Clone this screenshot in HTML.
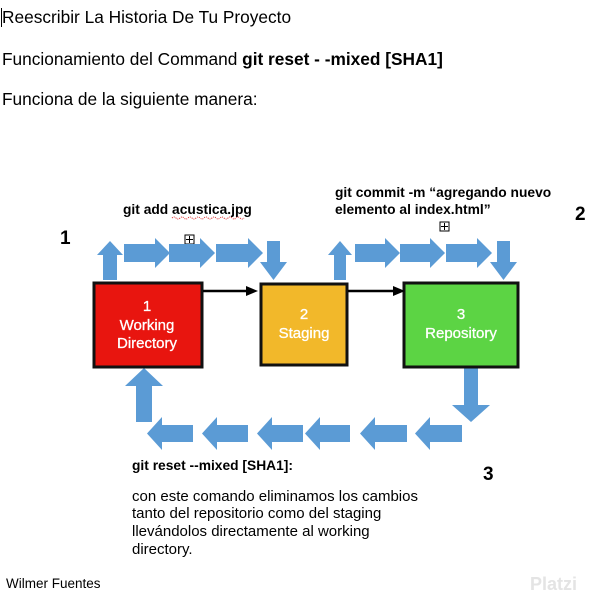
<!DOCTYPE html>
<html><head><meta charset="utf-8"><style>
html,body{margin:0;padding:0;background:#fff;}
svg{display:block;font-family:"Liberation Sans",Arial,sans-serif;}
</style></head><body>
<svg width="597" height="608" viewBox="0 0 597 608" xmlns="http://www.w3.org/2000/svg">
<line x1="1.5" y1="8" x2="1.5" y2="27" stroke="#000" stroke-width="1"/>
<text x="2" y="23" font-size="17.3">Reescribir La Historia De Tu Proyecto</text>
<text x="2" y="65" font-size="17.3">Funcionamiento del Command <tspan font-weight="bold">git reset - -mixed [SHA1]</tspan></text>
<text x="2" y="105" font-size="17.3">Funciona de la siguiente manera:</text>

<text x="123" y="214" font-size="13.8" font-weight="bold">git add acustica.jpg</text>
<path d="M172 218 q2 -2 4 0 t4 0 t4 0 t4 0 t4 0 t4 0 t4 0 t4 0 t4 0 t4 0 t4 0 t4 0 t4 0 t4 0 t4 0 t4 0 t4 0 t4 0" stroke="#d33" stroke-width="1" fill="none" stroke-dasharray="1 1"/>
<text x="335" y="197" font-size="13.8" font-weight="bold">git commit -m “agregando nuevo</text>
<text x="335" y="214" font-size="13.8" font-weight="bold">elemento al index.html”</text>
<rect x="185" y="235" width="9" height="9" fill="#fff" stroke="#000"/><path d="M189.5 236v7M186 239.5h7" stroke="#000"/>
<rect x="440" y="222" width="9" height="9" fill="#fff" stroke="#000"/><path d="M444.5 223v7M441 226.5h7" stroke="#000"/>

<text x="60" y="244" font-size="19" font-weight="bold">1</text>
<text x="575" y="220" font-size="19" font-weight="bold">2</text>
<text x="483" y="480" font-size="19" font-weight="bold">3</text>

<g fill="#5b9bd5">
<path d="M103 280V255H97L110 241L123 255H117V280Z"/>
<path d="M334 280V255H328L340 241L352 255H346V280Z"/>
<path d="M124 244H155V238L170 253L155 268V262H124Z"/>
<path d="M169 244H200V238L215 253L200 268V262H169Z"/>
<path d="M216 244H248V238L263 253L248 268V262H216Z"/>
<path d="M355 244H385V238L400 253L385 268V262H355Z"/>
<path d="M400 244H430V238L445 253L430 268V262H400Z"/>
<path d="M446 244H477V238L492 253L477 268V262H446Z"/>
<path d="M267 241H280V262H287L273.5 280L260 262H267Z"/>
<path d="M497 241H510V262H517L503.5 280L490 262H497Z"/>
<path d="M464 367H478V405H490L471 422L452 405H464Z"/>
<path d="M462 425H430V417L415 433.5L430 450V442H462Z"/>
<path d="M407 425H375V417L360 433.5L375 450V442H407Z"/>
<path d="M350 425H320V417L305 433.5L320 450V442H350Z"/>
<path d="M303 425H272V417L257 433.5L272 450V442H303Z"/>
<path d="M248 425H217V417L202 433.5L217 450V442H248Z"/>
<path d="M193 425H162V417L147 433.5L162 450V442H193Z"/>
<path d="M136 422V386H125L144 368L163 386H152V422Z"/>
</g>

<rect x="94" y="283" width="108" height="84" fill="#e8150f" stroke="#111" stroke-width="3"/>
<rect x="261" y="284" width="86" height="81" fill="#f2b82a" stroke="#111" stroke-width="3"/>
<rect x="404" y="283" width="114" height="84" fill="#5cd444" stroke="#111" stroke-width="3"/>
<g fill="#fff" font-size="15" text-anchor="middle" stroke="#fff" stroke-width="0.3">
<text x="147" y="311">1</text><text x="147" y="330">Working</text><text x="147" y="348">Directory</text>
<text x="304" y="319">2</text><text x="304" y="338">Staging</text>
<text x="461" y="319">3</text><text x="461" y="338">Repository</text>
</g>
<path d="M203 291H248" stroke="#000" stroke-width="2.5"/><path d="M258 291L246 286V296Z"/>
<path d="M348 291H393" stroke="#000" stroke-width="2.5"/><path d="M405 291L393 286V296Z"/>

<text x="132" y="470" font-size="13.8" font-weight="bold">git reset --mixed [SHA1]:</text>
<g font-size="15">
<text x="132" y="501">con este comando eliminamos los cambios</text>
<text x="132" y="518">tanto del repositorio como del staging</text>
<text x="132" y="536">llevándolos directamente al working</text>
<text x="132" y="554">directory.</text>
</g>
<text x="6" y="588" font-size="13.5">Wilmer Fuentes</text>
<text x="530" y="590" font-size="18" fill="#e4e4e4" font-weight="bold">Platzi</text>
</svg>
</body></html>
